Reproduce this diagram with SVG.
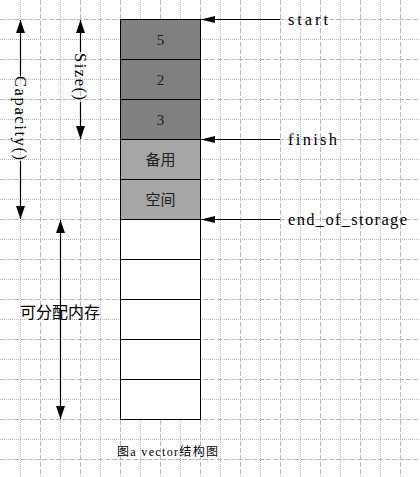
<svg xmlns="http://www.w3.org/2000/svg" width="420" height="477" viewBox="0 0 420 477">
<style>
.dash{stroke:#b8b8b8;stroke-width:1;stroke-dasharray:5,2;fill:none}
.dot{stroke:#b8b8b8;stroke-width:1;stroke-dasharray:1,1;fill:none}
.cell{stroke:#000;stroke-width:1}
.dark{fill:#808080}
.light{fill:#a6a6a6}
.empty{fill:#fff}
.num{font-family:"Liberation Serif","Noto Sans CJK SC",serif;font-size:15px;fill:#222;text-anchor:middle}
.cjk{font-family:"Liberation Serif","Noto Sans CJK SC",serif;font-size:15px;fill:#222;text-anchor:middle}
.lbl{font-family:"Liberation Serif","Noto Sans CJK SC",serif;font-size:16.5px;fill:#000}
.conn{stroke:#000;stroke-width:1.2;fill:none}
</style>
<defs>
<marker id="ah" markerUnits="userSpaceOnUse" markerWidth="14" markerHeight="7" refX="14" refY="3.5" orient="auto">
<path d="M0,0 L14,3.5 L0,7 z" fill="#000"/>
</marker>
<marker id="av" markerUnits="userSpaceOnUse" markerWidth="13" markerHeight="9" refX="13" refY="4.5" orient="auto-start-reverse">
<path d="M0,0 L13,4.5 L0,9 z" fill="#000"/>
</marker>
</defs>
<rect width="420" height="477" fill="#fff"/>
<g id="grid">
<path class="dot" d="M20.5,0V477M60.5,0V477M100.5,0V477M140.5,0V477M180.5,0V477M220.5,0V477M260.5,0V477M300.5,0V477M340.5,0V477M380.5,0V477"/>
<path class="dash" d="M40.5,0V477M80.5,0V477M120.5,0V477M160.5,0V477M200.5,0V477M240.5,0V477M280.5,0V477M320.5,0V477M360.5,0V477M400.5,0V477"/>
<path class="dot" d="M0,39.5H420M0,79.5H420M0,119.5H420M0,159.5H420M0,199.5H420M0,239.5H420M0,279.5H420M0,319.5H420M0,359.5H420M0,399.5H420M0,439.5H420"/>
<path class="dash" d="M0,19.5H420M0,59.5H420M0,99.5H420M0,139.5H420M0,179.5H420M0,219.5H420M0,259.5H420M0,299.5H420M0,339.5H420M0,379.5H420M0,419.5H420M0,459.5H420"/>
</g>
<g id="cell-5"><rect class="cell dark" x="120.5" y="19.5" width="80" height="40"/><text class="num" x="160.5" y="44.5">5</text></g>
<g id="cell-2"><rect class="cell dark" x="120.5" y="59.5" width="80" height="40"/><text class="num" x="160.5" y="84.5">2</text></g>
<g id="cell-3"><rect class="cell dark" x="120.5" y="99.5" width="80" height="40"/><text class="num" x="160.5" y="124.5">3</text></g>
<g id="cell-spare1"><rect class="cell light" x="120.5" y="139.5" width="80" height="40"/><text class="cjk" x="160.5" y="165">备用</text></g>
<g id="cell-spare2"><rect class="cell light" x="120.5" y="179.5" width="80" height="40"/><text class="cjk" x="160.5" y="205">空间</text></g>
<g id="cell-e1"><rect class="cell empty" x="120.5" y="219.5" width="80" height="40"/></g>
<g id="cell-e2"><rect class="cell empty" x="120.5" y="259.5" width="80" height="40"/></g>
<g id="cell-e3"><rect class="cell empty" x="120.5" y="299.5" width="80" height="40"/></g>
<g id="cell-e4"><rect class="cell empty" x="120.5" y="339.5" width="80" height="40"/></g>
<g id="cell-e5"><rect class="cell empty" x="120.5" y="379.5" width="80" height="40"/></g>
<g id="connectors">
<line class="conn" x1="280" y1="19.5" x2="201" y2="19.5" marker-end="url(#ah)"/>
<line class="conn" x1="280" y1="139.5" x2="201" y2="139.5" marker-end="url(#ah)"/>
<line class="conn" x1="280" y1="219.5" x2="201" y2="219.5" marker-end="url(#ah)"/>
<line class="conn" x1="20.5" y1="76" x2="20.5" y2="20" marker-end="url(#av)"/>
<line class="conn" x1="20.5" y1="161" x2="20.5" y2="219" marker-end="url(#av)"/>
<line class="conn" x1="80.5" y1="52" x2="80.5" y2="20" marker-end="url(#av)"/>
<line class="conn" x1="80.5" y1="102" x2="80.5" y2="139" marker-end="url(#av)"/>
<line class="conn" x1="60.5" y1="220" x2="60.5" y2="419" marker-start="url(#av)" marker-end="url(#av)"/>
</g>
<g id="labels">
<text class="lbl" x="288" y="24.5" textLength="40" lengthAdjust="spacing">start</text>
<text class="lbl" x="288" y="144.5" textLength="49" lengthAdjust="spacing">finish</text>
<text class="lbl" x="288" y="224.5" textLength="119" lengthAdjust="spacing">end_of_storage</text>
<text class="lbl" x="-42" y="0" dominant-baseline="central" textLength="84" lengthAdjust="spacing" transform="translate(20.5,118) rotate(90)">Capacity()</text>
<text class="lbl" x="-24" y="0" dominant-baseline="central" textLength="47" lengthAdjust="spacing" transform="translate(80.5,77) rotate(90)">Size()</text>
<text x="60" y="318" text-anchor="middle" style="font-family:'Liberation Serif','Noto Sans CJK SC',serif;font-size:16px;fill:#000">可分配内存</text>
<text x="117" y="456" textLength="101" lengthAdjust="spacing" style="font-family:'Liberation Serif','Noto Sans CJK SC',serif;font-size:12px;fill:#000">图a vector结构图</text>
</g>
</svg>
